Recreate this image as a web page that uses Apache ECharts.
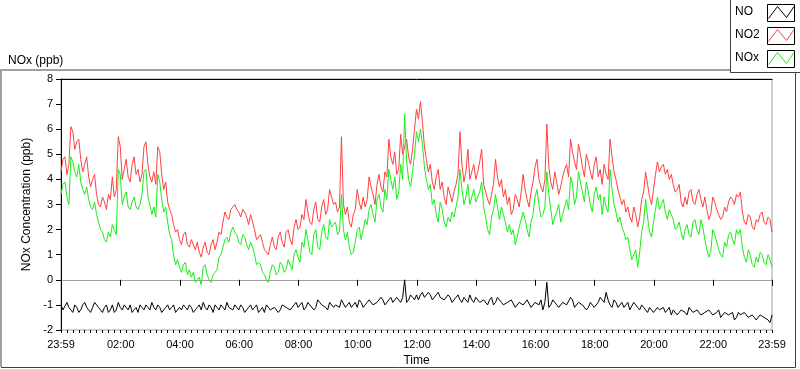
<!DOCTYPE html>
<html>
<head>
<meta charset="utf-8">
<script src="https://cdn.jsdelivr.net/npm/echarts@6/dist/echarts.min.js"></script>
<style>html,body{margin:0;padding:0;background:#fff}#c{width:800px;height:369px}</style>
</head>
<body>
<div id="c"></div>
<script>
// Time axis: minutes after the 23:59 start. Main samples every 8 minutes,
// in-between samples (…Mid arrays) at +4 minutes.
const stepMinutes = 8;
const seriesNames = ['NO', 'NO2', 'NOx'];
const xTickMinutes = [0, 121, 241, 361, 481, 601, 721, 841, 961, 1081, 1201, 1321, 1440];
const xTickLabels = ['23:59', '02:00', '04:00', '06:00', '08:00', '10:00', '12:00', '14:00', '16:00', '18:00', '20:00', '22:00', '23:59'];

const noValues = [
  -1.0,-1.2,-1.1,-1.3,-1.1,-1.2,-0.9,-1.2,-1.1,-1.0, -1.2,-1.1,-1.3,-1.0,-1.2,-1.1,-1.0,-1.2,-1.3,-1.1,
  -1.0,-1.2,-1.1,-0.9,-1.2,-1.1,-1.2,-1.0,-1.1,-1.3, -1.1,-1.0,-1.2,-1.1,-1.2,-1.0,-0.9,-1.2,-1.1,-1.0,
  -1.2,-1.1,-0.9,-1.1,-1.0,-1.2,
  -1.1,-1.2,-1.0,-1.1,-1.3,-1.1,-1.0,-1.2,-1.1,-1.3, -1.0,-1.1,-1.2,-1.0,-1.1,-0.9,-1.1,-1.0,-1.2,-0.8,
  -1.0,-1.1,-0.9,-1.1,-1.0,-0.8,-1.1,-0.9,-1.0,-1.1, -0.9,-1.0,-0.8,-1.0,-0.9,-0.7,-1.0,-0.8,-0.9,-0.7,
  -0.9,0.0,-0.8,-0.7,-0.6,
  -0.6,-0.7,-0.5,-0.8,-0.6,-0.7,-0.8,-0.6,-0.9,-0.7, -0.8,-0.7,-0.9,-0.8,-0.7,-0.9,-0.8,-1.0,-0.7,-0.9,
  -0.8,-1.0,-0.9,-0.8,-1.1,-0.9,-1.0,-0.8,-1.1,-0.9, -1.0,-1.2,-0.1,-1.0,-0.9,-1.1,-0.9,-1.0,-0.7,-1.1,
  -0.9,-1.0,-1.2,-0.9,-1.1,
  -0.9,-0.8,-0.5,-1.0,-0.8,-1.1,-0.9,-1.0,-1.2,-0.9, -1.1,-1.0,-1.2,-1.1,-1.3,-1.1,-1.2,-1.3,-1.1,-1.2,
  -1.4,-1.2,-1.3,-1.1,-1.3,-1.2,-1.4,-1.3,-1.2,-1.4, -1.3,-1.5,-1.3,-1.4,-1.3,-1.5,-1.4,-1.3,-1.5,-1.4,
  -1.6,-1.4,-1.5,-1.6,-1.4
];
const noMid = [
  -1.2,-0.9,-1.2,-1.0,-1.3,-1.0,-1.1,-1.3,-0.9,-1.1, -1.3,-1.0,-1.2,-1.3,-0.9,-1.2,-1.1,-1.0,-1.2,-1.3,
  -1.1,-1.0,-1.2,-1.1,-1.0,-1.3,-1.1,-1.2,-1.0,-1.2, -1.2,-1.1,-1.0,-1.3,-1.1,-1.2,-1.1,-1.0,-1.3,-1.1,
  -1.0,-1.2,-1.1,-1.2,-1.1,
  -1.0,-1.3,-1.1,-1.2,-1.0,-1.2,-1.3,-1.0,-1.2,-1.1, -1.2,-1.0,-1.1,-1.2,-0.9,-1.1,-1.2,-0.9,-1.0,-1.1,
  -0.9,-1.0,-1.2,-0.9,-1.0,-1.1,-0.8,-1.0,-1.1,-0.9, -0.8,-1.1,-0.9,-0.8,-1.0,-0.9,-0.8,-1.0,-0.7,-0.9,
  -0.8,-0.7,-0.9,-0.6,-0.8,
  -0.8,-0.5,-0.7,-0.6,-0.8,-0.5,-0.7,-0.8,-0.7,-0.8, -0.6,-0.9,-0.7,-0.6,-0.9,-0.7,-0.9,-0.8,-0.8,-1.0,
  -0.7,-0.9,-1.0,-0.9,-0.8,-1.1,-0.9,-1.0,-0.8,-1.1, -0.9,-0.8,-0.9,-1.1,-0.8,-1.0,-1.1,-0.9,-1.0,-0.8,
  -1.1,-0.9,-1.0,-1.1,-0.9,
  -1.1,-0.7,-0.9,-0.8,-1.1,-0.9,-1.0,-1.1,-0.9,-1.2, -1.0,-1.2,-1.1,-1.3,-1.2,-1.3,-1.2,-1.1,-1.3,-1.4,
  -1.2,-1.3,-1.2,-1.4,-1.2,-1.3,-1.2,-1.4,-1.3,-1.3, -1.4,-1.2,-1.5,-1.3,-1.4,-1.6,-1.3,-1.4,-1.3,-1.5,
  -1.5,-1.6,-1.4,-1.5,-1.7
];

const no2Values = [
  4.3,4.9,4.6,5.9,5.5,4.8,4.6,4.1,4.0,3.4, 2.9,3.1,3.4,4.1,3.6,5.3,4.4,4.1,4.6,4.2,
  3.9,5.3,4.6,3.9,3.8,5.1,3.6,3.1,2.6,1.9, 1.6,1.8,1.4,1.6,1.2,1.1,1.3,1.1,1.4,1.2,
  1.9,2.3,2.5,2.8,3.0,2.7,
  2.8,2.5,2.6,2.0,1.7,1.5,1.1,1.4,1.3,1.7, 1.5,1.9,1.6,2.1,2.0,2.6,3.2,2.3,2.8,2.4,
  2.9,2.6,3.6,3.0,2.7,5.7,2.6,2.3,2.6,3.6, 2.8,2.9,4.1,3.4,3.8,3.7,4.3,5.6,4.6,4.2,
  5.8,5.3,4.9,5.2,6.8,
  7.1,5.3,4.3,3.9,4.1,3.6,3.3,3.7,3.1,3.8, 5.9,3.9,5.2,4.3,4.0,4.7,3.8,3.2,3.4,4.8,
  3.7,3.3,3.0,2.6,3.4,2.9,4.2,3.2,3.5,4.5, 4.0,3.5,6.2,3.9,4.3,3.4,4.1,4.6,5.6,4.7,
  5.4,4.5,5.0,4.3,4.6,
  4.1,3.8,4.2,5.6,4.3,3.6,3.0,2.7,2.5,2.9, 2.1,3.2,4.3,3.3,3.6,4.7,4.5,4.2,4.0,3.8,
  3.6,3.1,3.3,3.5,3.1,3.4,3.2,3.3,2.4,3.3, 2.8,2.4,2.9,3.1,3.2,3.4,3.5,2.3,2.6,2.1,
  2.4,2.6,2.3,2.5,1.9
];
const no2Mid = [
  4.8,4.2,6.1,5.2,5.6,4.3,4.9,3.7,4.2,3.0, 3.3,2.8,3.2,3.3,5.7,4.0,4.8,3.9,4.9,4.4,
  4.2,5.5,4.1,4.3,5.3,4.2,3.9,2.8,2.2,2.0, 1.4,1.9,1.3,1.4,1.5,0.9,1.5,1.0,1.6,1.5,
  1.8,2.7,2.4,2.9,2.8,
  2.5,2.7,2.2,2.3,1.6,1.8,1.2,1.0,1.7,1.2, 1.9,1.3,2.0,1.4,2.4,2.1,2.4,2.7,2.2,3.1,
  2.3,3.2,2.8,3.3,3.1,2.9,3.0,2.9,2.1,2.8, 3.1,3.3,3.2,3.7,3.0,4.2,3.5,4.1,4.9,5.1,
  4.4,5.0,5.6,4.6,6.0,
  6.4,6.3,4.8,4.6,3.6,4.4,3.9,3.0,3.4,3.5, 4.2,4.6,4.3,4.0,4.6,4.3,5.2,3.5,3.0,3.8,
  4.1,4.0,3.6,3.3,2.8,3.2,3.5,3.6,2.9,3.9, 4.8,3.7,4.0,4.5,3.6,3.9,3.7,4.4,4.1,5.1,
  4.4,5.0,4.1,4.7,4.0,
  4.9,4.4,4.6,4.0,4.9,4.0,3.3,3.2,2.9,2.3, 2.6,2.5,3.5,3.8,3.0,4.2,4.3,4.6,4.4,4.2,
  3.5,3.8,2.9,3.0,3.6,3.0,3.6,2.9,2.8,2.6, 3.1,2.6,2.5,2.7,3.3,3.0,3.3,2.7,2.2,2.5,
  2.0,2.3,2.7,2.2,2.4
];

const noxValues = [
  3.4,3.9,3.0,4.7,4.1,3.9,3.4,3.2,2.8,2.6, 2.0,1.6,1.9,2.2,1.8,4.2,3.3,2.9,3.1,2.9,
  3.0,4.3,3.3,2.6,2.5,3.9,2.7,2.3,1.6,0.6, 0.5,0.6,0.2,0.1,-0.1,0.1,0.5,0.2,-0.1,0.3,
  0.9,1.3,1.7,1.9,1.9,1.5,
  1.8,1.4,1.5,1.0,0.7,0.3,0.0,0.3,0.5,0.3, 0.6,0.4,0.6,1.0,0.9,1.5,2.0,1.1,1.8,1.3,
  1.9,1.7,2.4,2.2,1.8,3.4,1.6,1.3,1.1,2.0, 1.6,2.4,2.8,2.6,3.2,2.9,3.6,4.4,3.6,3.2,
  4.6,6.6,4.0,4.3,5.9,
  6.0,4.5,3.6,3.0,2.6,3.1,2.3,2.5,2.7,2.9, 4.4,3.0,3.8,3.3,3.1,3.5,2.9,2.0,2.5,3.4,
  2.4,2.6,1.9,1.8,1.4,2.1,2.7,2.0,2.3,3.3, 3.0,2.6,4.3,2.8,2.5,3.0,2.6,3.2,4.1,3.0,
  4.3,3.5,3.9,3.0,3.4,
  3.2,2.6,2.9,4.4,3.0,2.3,2.1,1.6,1.2,1.0, 0.5,1.9,3.2,1.9,2.3,3.3,3.0,2.7,2.8,2.4,
  2.1,1.9,2.0,1.8,2.3,2.0,2.4,1.6,0.9,2.0, 1.5,1.0,1.5,1.8,1.6,2.0,2.0,0.9,1.2,0.6,
  0.9,1.1,0.7,1.0,0.5
];
const noxMid = [
  3.8,3.3,4.9,4.3,4.6,3.6,3.7,2.9,3.1,2.3, 1.9,1.5,1.7,2.0,4.4,3.0,3.5,2.8,3.3,2.8,
  3.4,4.4,3.0,2.9,4.2,3.2,2.9,1.8,1.0,0.8, 0.3,0.7,0.4,0.3,0.0,-0.2,0.6,0.0,0.2,0.4,
  1.0,1.6,1.5,2.1,1.8,
  1.4,1.7,1.2,1.3,0.6,0.6,0.2,-0.1,0.6,0.2, 0.7,0.3,0.8,0.4,1.2,0.7,1.3,1.6,1.0,2.0,
  1.2,2.2,1.6,2.1,2.3,1.9,2.0,1.9,1.0,1.5, 2.1,2.0,2.2,3.0,2.3,3.4,2.7,3.2,4.0,4.1,
  3.5,4.0,4.7,3.7,5.0,
  5.5,5.4,4.0,3.8,3.2,2.3,2.8,2.1,2.3,2.5, 3.3,3.6,3.3,3.0,3.6,3.3,3.9,2.5,1.8,2.8,
  2.9,2.9,2.3,2.2,2.0,1.7,2.4,2.4,1.7,2.6, 3.6,2.5,2.9,3.4,2.2,2.7,2.3,2.9,2.8,3.8,
  3.3,3.9,3.1,3.5,2.7,
  3.7,3.4,3.3,2.7,3.6,2.7,2.5,1.9,1.7,0.8, 1.2,1.1,2.3,2.5,1.7,2.8,2.8,3.2,2.4,2.6,
  2.0,2.3,1.6,2.2,1.7,2.4,1.8,2.1,1.2,1.1, 1.8,1.2,0.9,1.3,1.9,1.4,1.8,1.3,0.7,1.0,
  0.5,0.7,1.0,0.6,0.8
];

const colors = { NO: '#000000', NO2: '#ff4040', NOx: '#18ee18' };
function buildSeries(main, mid) {
  const out = [];
  main.forEach((v, i) => {
    out.push([i * stepMinutes, v]);
    if (i < mid.length) out.push([i * stepMinutes + stepMinutes / 2, mid[i]]);
  });
  return out;
}
const FONT = 'Liberation Sans';

const chart = echarts.init(document.getElementById('c'), null, { renderer: 'canvas' });

function legendItem(name, idx) {
  const top = 4 + idx * 23;
  return [
    { type: 'text', left: 735, top: top + 2, style: { text: name, font: '12px "' + FONT + '"', fill: '#000' } },
    { type: 'rect', shape: { x: 767.5, y: top + 0.5, width: 27, height: 17 }, style: { fill: '#fff', stroke: '#000', lineWidth: 1 } },
    { type: 'polyline', shape: { points: [[768.5, top + 14.5], [777.5, top + 2.5], [786.5, top + 13.5], [794, top + 2.5]] }, style: { stroke: colors[name], lineWidth: 1, fill: null } }
  ];
}

const option = {
  animation: false,
  backgroundColor: '#fff',
  textStyle: { fontFamily: FONT },
  title: { text: 'NOx (ppb)', left: 3, top: 50, textStyle: { fontSize: 12, fontWeight: 'normal', color: '#000', fontFamily: FONT } },
  grid: { left: 61, right: 28, top: 79, bottom: 39, containLabel: false, outerBoundsMode: 'none',
    show: true, borderColor: '#a0a0a0', borderWidth: 1, backgroundColor: '#fff' },
  xAxis: [
    {
      type: 'value', min: 0, max: 1440, position: 'bottom',
      name: 'Time', nameLocation: 'middle', nameGap: 25,
      nameTextStyle: { fontSize: 12, color: '#000', fontFamily: FONT },
      axisLine: { show: true, lineStyle: { color: '#a0a0a0', width: 1 } },
      axisTick: { show: true, customValues: xTickMinutes, length: 6, lineStyle: { color: '#000' } },
      axisLabel: { show: true, customValues: xTickMinutes, margin: 9, fontSize: 11, color: '#000', fontFamily: FONT,
        formatter: v => { const k = xTickMinutes.indexOf(v); return k >= 0 ? xTickLabels[k] : ''; } },
      splitLine: { show: false }
    },
    {
      type: 'value', min: 0, max: 1440, interval: 120, position: 'bottom',
      axisLine: { show: false },
      axisTick: { show: true, length: 3, lineStyle: { color: '#000' } },
      minorTick: { show: true, splitNumber: 10, length: 3, lineStyle: { color: '#000' } },
      axisLabel: { show: false },
      splitLine: { show: false }
    },
    {
      type: 'value', min: 0, max: 1440, position: 'top',
      axisLine: { show: true, lineStyle: { color: '#000', width: 1 } },
      axisTick: { show: false }, axisLabel: { show: false }, splitLine: { show: false }
    }
  ],
  yAxis: {
    type: 'value', min: -2, max: 8, interval: 1,
    name: 'NOx Concentration (ppb)', nameLocation: 'middle', nameGap: 22, nameRotate: 90,
    nameTextStyle: { fontSize: 12, color: '#000', fontFamily: FONT },
    axisLine: { show: true, lineStyle: { color: '#000', width: 1 } },
    axisTick: { show: true, length: 5, lineStyle: { color: '#000' } },
    axisLabel: { margin: 8, fontSize: 11, color: '#000', fontFamily: FONT },
    splitLine: { show: false }
  },
  series: [
    { name: 'NO2', type: 'line', xAxisIndex: 0, data: buildSeries(no2Values, no2Mid), showSymbol: false, symbol: 'none', lineStyle: { color: colors.NO2, width: 1 }, itemStyle: { color: colors.NO2 }, z: 2 },
    { name: 'NOx', type: 'line', xAxisIndex: 0, data: buildSeries(noxValues, noxMid), showSymbol: false, symbol: 'none', lineStyle: { color: colors.NOx, width: 1 }, itemStyle: { color: colors.NOx }, z: 3 },
    { name: 'NO', type: 'line', xAxisIndex: 0, data: buildSeries(noValues, noMid), showSymbol: false, symbol: 'none', lineStyle: { color: colors.NO, width: 1 }, itemStyle: { color: colors.NO }, z: 4 }
  ],
  graphic: [
    { type: 'polyline', shape: { points: [[1, 367], [1, 70], [730, 70]] }, style: { stroke: '#a0a0a0', lineWidth: 2, fill: null } },
    { type: 'polyline', shape: { points: [[1, 367.5], [795.5, 367.5], [795.5, 72]] }, style: { stroke: '#404040', lineWidth: 1, fill: null } },
    { type: 'rect', shape: { x: 730.5, y: -1, width: 70, height: 73.5 }, style: { fill: '#fff', stroke: '#404040', lineWidth: 1 } },
    ...seriesNames.flatMap((n, i) => legendItem(n, i))
  ]
};
chart.setOption(option);
</script>
</body>
</html>
